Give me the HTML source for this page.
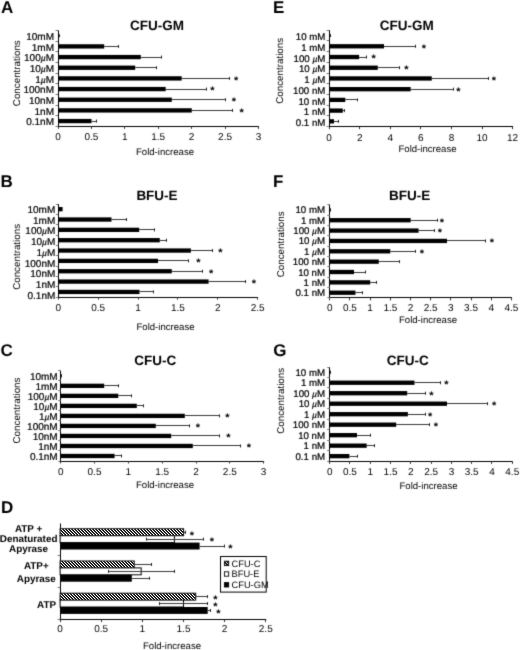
<!DOCTYPE html>
<html><head><meta charset="utf-8"><title>Figure</title>
<style>
html,body{margin:0;padding:0;background:#fff;}
body{width:520px;height:650px;overflow:hidden;}
svg{display:block;font-family:"Liberation Sans", sans-serif;text-rendering:geometricPrecision;filter:grayscale(1);}
.ax{stroke:#000;stroke-width:1;}
.tk{stroke:#777;stroke-width:1;}
.tx{stroke:#333;stroke-width:1;}
.eb{stroke:#3a3a3a;stroke-width:1;}
.ec{stroke:#222;stroke-width:1;}
text{fill:#000;}
.hv{stroke:#000;stroke-width:0.22px;}
</style></head>
<body>
<svg width="520" height="650" viewBox="0 0 520 650">
<defs>
<pattern id="hatch" patternUnits="userSpaceOnUse" x="0" y="0" width="3" height="3">
<rect width="3" height="3" fill="#000"/><path d="M0 0h1v1H0zM1 1h1v1H1zM2 2h1v1H2z" fill="#fff"/><path d="M1 0h1v1H1zM2 1h1v1H2zM0 2h1v1H0z" fill="#444"/>
</pattern>
<pattern id="hatch2" patternUnits="userSpaceOnUse" x="0" y="0" width="3" height="3">
<rect width="3" height="3" fill="#000"/><path d="M0 0h1v1H0zM1 1h1v1H1zM2 2h1v1H2z" fill="#fff"/>
</pattern>
<filter id="soft" x="0" y="0" width="520" height="650" filterUnits="userSpaceOnUse" color-interpolation-filters="sRGB"><feConvolveMatrix order="3" kernelMatrix="1 6 1 6 36 6 1 6 1" divisor="64" edgeMode="duplicate" preserveAlpha="true"/></filter>
</defs>
<g filter="url(#soft)">
<rect width="520" height="650" fill="#fff"/>
<line x1="58.50" y1="30.40" x2="58.50" y2="127.90" class="ax"/>
<line x1="57.50" y1="126.50" x2="258.96" y2="126.50" class="ax"/>
<line x1="55.50" y1="30.50" x2="58.00" y2="30.50" class="tk"/>
<line x1="55.50" y1="41.50" x2="58.00" y2="41.50" class="tk"/>
<line x1="55.50" y1="51.50" x2="58.00" y2="51.50" class="tk"/>
<line x1="55.50" y1="62.50" x2="58.00" y2="62.50" class="tk"/>
<line x1="55.50" y1="73.50" x2="58.00" y2="73.50" class="tk"/>
<line x1="55.50" y1="83.50" x2="58.00" y2="83.50" class="tk"/>
<line x1="55.50" y1="94.50" x2="58.00" y2="94.50" class="tk"/>
<line x1="55.50" y1="105.50" x2="58.00" y2="105.50" class="tk"/>
<line x1="55.50" y1="115.50" x2="58.00" y2="115.50" class="tk"/>
<line x1="55.50" y1="126.50" x2="58.00" y2="126.50" class="tk"/>
<line x1="58.50" y1="126.40" x2="58.50" y2="128.90" class="tx"/>
<text x="58.00" y="140.30" font-size="10" text-anchor="middle">0</text>
<line x1="91.50" y1="126.40" x2="91.50" y2="128.90" class="tx"/>
<text x="91.41" y="140.30" font-size="10" text-anchor="middle">0.5</text>
<line x1="124.50" y1="126.40" x2="124.50" y2="128.90" class="tx"/>
<text x="124.82" y="140.30" font-size="10" text-anchor="middle">1</text>
<line x1="158.50" y1="126.40" x2="158.50" y2="128.90" class="tx"/>
<text x="158.23" y="140.30" font-size="10" text-anchor="middle">1.5</text>
<line x1="191.50" y1="126.40" x2="191.50" y2="128.90" class="tx"/>
<text x="191.64" y="140.30" font-size="10" text-anchor="middle">2</text>
<line x1="225.50" y1="126.40" x2="225.50" y2="128.90" class="tx"/>
<text x="225.05" y="140.30" font-size="10" text-anchor="middle">2.5</text>
<line x1="258.50" y1="126.40" x2="258.50" y2="128.90" class="tx"/>
<text x="258.46" y="140.30" font-size="10" text-anchor="middle">3</text>
<text x="54.00" y="40.13" font-size="10" text-anchor="end" class="hv">10mM</text>
<rect x="58" y="33.58" width="0.80" height="4.3" fill="#000"/>
<line x1="58.80" y1="35.50" x2="59.20" y2="35.50" class="eb"/>
<line x1="59.50" y1="34.23" x2="59.50" y2="37.23" class="ec"/>
<text x="54.00" y="50.80" font-size="10" text-anchor="end" class="hv">1mM</text>
<rect x="58" y="44.25" width="46.20" height="4.3" fill="#000"/>
<line x1="104.20" y1="46.50" x2="118.30" y2="46.50" class="eb"/>
<line x1="118.50" y1="44.90" x2="118.50" y2="47.90" class="ec"/>
<text x="54.00" y="61.47" font-size="10" text-anchor="end" class="hv">100<tspan font-style="italic" font-size="8.5">µ</tspan>M</text>
<rect x="58" y="54.92" width="82.80" height="4.3" fill="#000"/>
<line x1="140.80" y1="57.50" x2="161.40" y2="57.50" class="eb"/>
<line x1="161.50" y1="55.57" x2="161.50" y2="58.57" class="ec"/>
<text x="54.00" y="72.13" font-size="10" text-anchor="end" class="hv">10<tspan font-style="italic" font-size="8.5">µ</tspan>M</text>
<rect x="58" y="65.58" width="77.20" height="4.3" fill="#000"/>
<line x1="135.20" y1="67.50" x2="156.50" y2="67.50" class="eb"/>
<line x1="156.50" y1="66.23" x2="156.50" y2="69.23" class="ec"/>
<text x="54.00" y="82.80" font-size="10" text-anchor="end" class="hv">1<tspan font-style="italic" font-size="8.5">µ</tspan>M</text>
<rect x="58" y="76.25" width="123.70" height="4.3" fill="#000"/>
<line x1="181.70" y1="78.50" x2="229.40" y2="78.50" class="eb"/>
<line x1="229.50" y1="76.90" x2="229.50" y2="79.90" class="ec"/>
<text x="236.20" y="83.80" font-size="11" text-anchor="middle" font-weight="bold">*</text>
<text x="54.00" y="93.47" font-size="10" text-anchor="end" class="hv">100nM</text>
<rect x="58" y="86.92" width="107.70" height="4.3" fill="#000"/>
<line x1="165.70" y1="89.50" x2="206.00" y2="89.50" class="eb"/>
<line x1="206.50" y1="87.57" x2="206.50" y2="90.57" class="ec"/>
<text x="212.50" y="94.47" font-size="11" text-anchor="middle" font-weight="bold">*</text>
<text x="54.00" y="104.13" font-size="10" text-anchor="end" class="hv">10nM</text>
<rect x="58" y="97.58" width="113.80" height="4.3" fill="#000"/>
<line x1="171.80" y1="99.50" x2="225.40" y2="99.50" class="eb"/>
<line x1="225.50" y1="98.23" x2="225.50" y2="101.23" class="ec"/>
<text x="234.00" y="105.13" font-size="11" text-anchor="middle" font-weight="bold">*</text>
<text x="54.00" y="114.80" font-size="10" text-anchor="end" class="hv">1nM</text>
<rect x="58" y="108.25" width="133.80" height="4.3" fill="#000"/>
<line x1="191.80" y1="110.50" x2="232.20" y2="110.50" class="eb"/>
<line x1="232.50" y1="108.90" x2="232.50" y2="111.90" class="ec"/>
<text x="241.70" y="115.80" font-size="11" text-anchor="middle" font-weight="bold">*</text>
<text x="54.00" y="125.47" font-size="10" text-anchor="end" class="hv">0.1nM</text>
<rect x="58" y="118.92" width="33.50" height="4.3" fill="#000"/>
<line x1="91.50" y1="121.50" x2="96.50" y2="121.50" class="eb"/>
<line x1="96.50" y1="119.57" x2="96.50" y2="122.57" class="ec"/>
<text x="157.00" y="30.27" font-size="13.5" text-anchor="middle" font-weight="bold">CFU-GM</text>
<text x="165.00" y="154.96" font-size="9.6" text-anchor="middle">Fold-increase</text>
<text x="0" y="0" font-size="9.8" text-anchor="middle" transform="translate(19.53,73.20) rotate(-90)">Concentrations</text>
<text x="1.00" y="13.37" font-size="17" text-anchor="start" font-weight="bold">A</text>
<line x1="58.50" y1="204.00" x2="58.50" y2="298.60" class="ax"/>
<line x1="57.80" y1="297.50" x2="258.10" y2="297.50" class="ax"/>
<line x1="55.80" y1="204.50" x2="58.30" y2="204.50" class="tk"/>
<line x1="55.80" y1="214.50" x2="58.30" y2="214.50" class="tk"/>
<line x1="55.80" y1="224.50" x2="58.30" y2="224.50" class="tk"/>
<line x1="55.80" y1="235.50" x2="58.30" y2="235.50" class="tk"/>
<line x1="55.80" y1="245.50" x2="58.30" y2="245.50" class="tk"/>
<line x1="55.80" y1="255.50" x2="58.30" y2="255.50" class="tk"/>
<line x1="55.80" y1="266.50" x2="58.30" y2="266.50" class="tk"/>
<line x1="55.80" y1="276.50" x2="58.30" y2="276.50" class="tk"/>
<line x1="55.80" y1="286.50" x2="58.30" y2="286.50" class="tk"/>
<line x1="55.80" y1="297.50" x2="58.30" y2="297.50" class="tk"/>
<line x1="58.50" y1="297.10" x2="58.50" y2="299.60" class="tx"/>
<text x="58.30" y="310.60" font-size="10" text-anchor="middle">0</text>
<line x1="98.50" y1="297.10" x2="98.50" y2="299.60" class="tx"/>
<text x="98.16" y="310.60" font-size="10" text-anchor="middle">0.5</text>
<line x1="138.50" y1="297.10" x2="138.50" y2="299.60" class="tx"/>
<text x="138.02" y="310.60" font-size="10" text-anchor="middle">1</text>
<line x1="177.50" y1="297.10" x2="177.50" y2="299.60" class="tx"/>
<text x="177.88" y="310.60" font-size="10" text-anchor="middle">1.5</text>
<line x1="217.50" y1="297.10" x2="217.50" y2="299.60" class="tx"/>
<text x="217.74" y="310.60" font-size="10" text-anchor="middle">2</text>
<line x1="257.50" y1="297.10" x2="257.50" y2="299.60" class="tx"/>
<text x="257.60" y="310.60" font-size="10" text-anchor="middle">2.5</text>
<text x="55.30" y="213.10" font-size="10" text-anchor="end" class="hv">10mM</text>
<rect x="58.3" y="207.02" width="4.30" height="4.3" fill="#000"/>
<text x="55.30" y="223.79" font-size="10" text-anchor="end" class="hv">1mM</text>
<rect x="58.3" y="217.37" width="53.20" height="4.3" fill="#000"/>
<line x1="111.50" y1="219.50" x2="126.90" y2="219.50" class="eb"/>
<line x1="126.50" y1="218.02" x2="126.50" y2="221.02" class="ec"/>
<text x="55.30" y="234.48" font-size="10" text-anchor="end" class="hv">100<tspan font-style="italic" font-size="8.5">µ</tspan>M</text>
<rect x="58.3" y="227.71" width="80.90" height="4.3" fill="#000"/>
<line x1="139.20" y1="229.50" x2="154.00" y2="229.50" class="eb"/>
<line x1="154.50" y1="228.36" x2="154.50" y2="231.36" class="ec"/>
<text x="55.30" y="245.17" font-size="10" text-anchor="end" class="hv">10<tspan font-style="italic" font-size="8.5">µ</tspan>M</text>
<rect x="58.3" y="238.06" width="101.50" height="4.3" fill="#000"/>
<line x1="159.80" y1="240.50" x2="166.00" y2="240.50" class="eb"/>
<line x1="166.50" y1="238.71" x2="166.50" y2="241.71" class="ec"/>
<text x="55.30" y="255.86" font-size="10" text-anchor="end" class="hv">1<tspan font-style="italic" font-size="8.5">µ</tspan>M</text>
<rect x="58.3" y="248.40" width="132.60" height="4.3" fill="#000"/>
<line x1="190.90" y1="250.50" x2="212.00" y2="250.50" class="eb"/>
<line x1="212.50" y1="249.05" x2="212.50" y2="252.05" class="ec"/>
<text x="220.50" y="255.95" font-size="11" text-anchor="middle" font-weight="bold">*</text>
<text x="55.30" y="266.55" font-size="10" text-anchor="end" class="hv">100nM</text>
<rect x="58.3" y="258.74" width="99.70" height="4.3" fill="#000"/>
<line x1="158.00" y1="260.50" x2="188.00" y2="260.50" class="eb"/>
<line x1="188.50" y1="259.39" x2="188.50" y2="262.39" class="ec"/>
<text x="198.40" y="266.29" font-size="11" text-anchor="middle" font-weight="bold">*</text>
<text x="55.30" y="277.24" font-size="10" text-anchor="end" class="hv">10nM</text>
<rect x="58.3" y="269.09" width="113.50" height="4.3" fill="#000"/>
<line x1="171.80" y1="271.50" x2="202.30" y2="271.50" class="eb"/>
<line x1="202.50" y1="269.74" x2="202.50" y2="272.74" class="ec"/>
<text x="211.20" y="276.64" font-size="11" text-anchor="middle" font-weight="bold">*</text>
<text x="55.30" y="287.93" font-size="10" text-anchor="end" class="hv">1nM</text>
<rect x="58.3" y="279.43" width="150.30" height="4.3" fill="#000"/>
<line x1="208.60" y1="281.50" x2="245.40" y2="281.50" class="eb"/>
<line x1="245.50" y1="280.08" x2="245.50" y2="283.08" class="ec"/>
<text x="253.90" y="286.98" font-size="11" text-anchor="middle" font-weight="bold">*</text>
<text x="55.30" y="298.62" font-size="10" text-anchor="end" class="hv">0.1nM</text>
<rect x="58.3" y="289.78" width="81.20" height="4.3" fill="#000"/>
<line x1="139.50" y1="291.50" x2="153.60" y2="291.50" class="eb"/>
<line x1="153.50" y1="290.43" x2="153.50" y2="293.43" class="ec"/>
<text x="157.00" y="200.17" font-size="13.5" text-anchor="middle" font-weight="bold">BFU-E</text>
<text x="165.50" y="329.76" font-size="9.6" text-anchor="middle">Fold-increase</text>
<text x="0" y="0" font-size="9.8" text-anchor="middle" transform="translate(19.53,256.90) rotate(-90)">Concentrations</text>
<text x="0.60" y="187.37" font-size="17" text-anchor="start" font-weight="bold">B</text>
<line x1="60.50" y1="370.80" x2="60.50" y2="462.50" class="ax"/>
<line x1="60.20" y1="461.50" x2="264.15" y2="461.50" class="ax"/>
<line x1="58.20" y1="370.50" x2="60.70" y2="370.50" class="tk"/>
<line x1="58.20" y1="380.50" x2="60.70" y2="380.50" class="tk"/>
<line x1="58.20" y1="390.50" x2="60.70" y2="390.50" class="tk"/>
<line x1="58.20" y1="400.50" x2="60.70" y2="400.50" class="tk"/>
<line x1="58.20" y1="410.50" x2="60.70" y2="410.50" class="tk"/>
<line x1="58.20" y1="420.50" x2="60.70" y2="420.50" class="tk"/>
<line x1="58.20" y1="430.50" x2="60.70" y2="430.50" class="tk"/>
<line x1="58.20" y1="440.50" x2="60.70" y2="440.50" class="tk"/>
<line x1="58.20" y1="450.50" x2="60.70" y2="450.50" class="tk"/>
<line x1="58.20" y1="461.50" x2="60.70" y2="461.50" class="tk"/>
<line x1="60.50" y1="461.00" x2="60.50" y2="463.50" class="tx"/>
<text x="60.70" y="475.00" font-size="10" text-anchor="middle">0</text>
<line x1="94.50" y1="461.00" x2="94.50" y2="463.50" class="tx"/>
<text x="94.53" y="475.00" font-size="10" text-anchor="middle">0.5</text>
<line x1="128.50" y1="461.00" x2="128.50" y2="463.50" class="tx"/>
<text x="128.35" y="475.00" font-size="10" text-anchor="middle">1</text>
<line x1="162.50" y1="461.00" x2="162.50" y2="463.50" class="tx"/>
<text x="162.18" y="475.00" font-size="10" text-anchor="middle">1.5</text>
<line x1="196.50" y1="461.00" x2="196.50" y2="463.50" class="tx"/>
<text x="196.00" y="475.00" font-size="10" text-anchor="middle">2</text>
<line x1="229.50" y1="461.00" x2="229.50" y2="463.50" class="tx"/>
<text x="229.82" y="475.00" font-size="10" text-anchor="middle">2.5</text>
<line x1="263.50" y1="461.00" x2="263.50" y2="463.50" class="tx"/>
<text x="263.65" y="475.00" font-size="10" text-anchor="middle">3</text>
<text x="57.70" y="379.91" font-size="10" text-anchor="end" class="hv">10mM</text>
<rect x="60.7" y="373.66" width="0.50" height="4.3" fill="#000"/>
<line x1="61.20" y1="375.50" x2="61.60" y2="375.50" class="eb"/>
<line x1="61.50" y1="374.31" x2="61.50" y2="377.31" class="ec"/>
<text x="57.70" y="389.93" font-size="10" text-anchor="end" class="hv">1mM</text>
<rect x="60.7" y="383.68" width="43.50" height="4.3" fill="#000"/>
<line x1="104.20" y1="385.50" x2="118.60" y2="385.50" class="eb"/>
<line x1="118.50" y1="384.33" x2="118.50" y2="387.33" class="ec"/>
<text x="57.70" y="399.96" font-size="10" text-anchor="end" class="hv">100<tspan font-style="italic" font-size="8.5">µ</tspan>M</text>
<rect x="60.7" y="393.71" width="57.60" height="4.3" fill="#000"/>
<line x1="118.30" y1="395.50" x2="131.50" y2="395.50" class="eb"/>
<line x1="131.50" y1="394.36" x2="131.50" y2="397.36" class="ec"/>
<text x="57.70" y="409.98" font-size="10" text-anchor="end" class="hv">10<tspan font-style="italic" font-size="8.5">µ</tspan>M</text>
<rect x="60.7" y="403.73" width="76.10" height="4.3" fill="#000"/>
<line x1="136.80" y1="405.50" x2="143.50" y2="405.50" class="eb"/>
<line x1="143.50" y1="404.38" x2="143.50" y2="407.38" class="ec"/>
<text x="57.70" y="420.00" font-size="10" text-anchor="end" class="hv">1<tspan font-style="italic" font-size="8.5">µ</tspan>M</text>
<rect x="60.7" y="413.75" width="124.10" height="4.3" fill="#000"/>
<line x1="184.80" y1="415.50" x2="219.20" y2="415.50" class="eb"/>
<line x1="219.50" y1="414.40" x2="219.50" y2="417.40" class="ec"/>
<text x="227.50" y="421.30" font-size="11" text-anchor="middle" font-weight="bold">*</text>
<text x="57.70" y="430.02" font-size="10" text-anchor="end" class="hv">100nM</text>
<rect x="60.7" y="423.77" width="95.10" height="4.3" fill="#000"/>
<line x1="155.80" y1="425.50" x2="189.40" y2="425.50" class="eb"/>
<line x1="189.50" y1="424.42" x2="189.50" y2="427.42" class="ec"/>
<text x="198.00" y="431.32" font-size="11" text-anchor="middle" font-weight="bold">*</text>
<text x="57.70" y="440.04" font-size="10" text-anchor="end" class="hv">10nM</text>
<rect x="60.7" y="433.79" width="110.50" height="4.3" fill="#000"/>
<line x1="171.20" y1="435.50" x2="219.20" y2="435.50" class="eb"/>
<line x1="219.50" y1="434.44" x2="219.50" y2="437.44" class="ec"/>
<text x="228.50" y="441.34" font-size="11" text-anchor="middle" font-weight="bold">*</text>
<text x="57.70" y="450.07" font-size="10" text-anchor="end" class="hv">1nM</text>
<rect x="60.7" y="443.82" width="132.10" height="4.3" fill="#000"/>
<line x1="192.80" y1="445.50" x2="240.80" y2="445.50" class="eb"/>
<line x1="240.50" y1="444.47" x2="240.50" y2="447.47" class="ec"/>
<text x="249.00" y="451.37" font-size="11" text-anchor="middle" font-weight="bold">*</text>
<text x="57.70" y="460.09" font-size="10" text-anchor="end" class="hv">0.1nM</text>
<rect x="60.7" y="453.84" width="53.90" height="4.3" fill="#000"/>
<line x1="114.60" y1="455.50" x2="121.70" y2="455.50" class="eb"/>
<line x1="121.50" y1="454.49" x2="121.50" y2="457.49" class="ec"/>
<text x="155.20" y="365.17" font-size="13.5" text-anchor="middle" font-weight="bold">CFU-C</text>
<text x="165.00" y="488.26" font-size="9.6" text-anchor="middle">Fold-increase</text>
<text x="0" y="0" font-size="9.8" text-anchor="middle" transform="translate(19.53,410.50) rotate(-90)">Concentrations</text>
<text x="0.60" y="355.97" font-size="17" text-anchor="start" font-weight="bold">C</text>
<line x1="329.50" y1="30.20" x2="329.50" y2="128.20" class="ax"/>
<line x1="328.60" y1="126.50" x2="513.08" y2="126.50" class="ax"/>
<line x1="326.60" y1="30.50" x2="329.10" y2="30.50" class="tk"/>
<line x1="326.60" y1="40.50" x2="329.10" y2="40.50" class="tk"/>
<line x1="326.60" y1="51.50" x2="329.10" y2="51.50" class="tk"/>
<line x1="326.60" y1="62.50" x2="329.10" y2="62.50" class="tk"/>
<line x1="326.60" y1="73.50" x2="329.10" y2="73.50" class="tk"/>
<line x1="326.60" y1="83.50" x2="329.10" y2="83.50" class="tk"/>
<line x1="326.60" y1="94.50" x2="329.10" y2="94.50" class="tk"/>
<line x1="326.60" y1="105.50" x2="329.10" y2="105.50" class="tk"/>
<line x1="326.60" y1="115.50" x2="329.10" y2="115.50" class="tk"/>
<line x1="326.60" y1="126.50" x2="329.10" y2="126.50" class="tk"/>
<line x1="329.50" y1="126.70" x2="329.50" y2="129.20" class="tx"/>
<text x="329.10" y="140.55" font-size="10" text-anchor="middle">0</text>
<line x1="359.50" y1="126.70" x2="359.50" y2="129.20" class="tx"/>
<text x="359.68" y="140.55" font-size="10" text-anchor="middle">2</text>
<line x1="390.50" y1="126.70" x2="390.50" y2="129.20" class="tx"/>
<text x="390.26" y="140.55" font-size="10" text-anchor="middle">4</text>
<line x1="420.50" y1="126.70" x2="420.50" y2="129.20" class="tx"/>
<text x="420.84" y="140.55" font-size="10" text-anchor="middle">6</text>
<line x1="451.50" y1="126.70" x2="451.50" y2="129.20" class="tx"/>
<text x="451.42" y="140.55" font-size="10" text-anchor="middle">8</text>
<line x1="482.50" y1="126.70" x2="482.50" y2="129.20" class="tx"/>
<text x="482.00" y="140.55" font-size="10" text-anchor="middle">10</text>
<line x1="512.50" y1="126.70" x2="512.50" y2="129.20" class="tx"/>
<text x="512.58" y="140.55" font-size="10" text-anchor="middle">12</text>
<text x="325.40" y="40.25" font-size="9.7" text-anchor="end" class="hv">10 mM</text>
<rect x="329.1" y="33.41" width="0.50" height="4.3" fill="#000"/>
<line x1="329.60" y1="35.50" x2="330.00" y2="35.50" class="eb"/>
<line x1="330.50" y1="34.06" x2="330.50" y2="37.06" class="ec"/>
<text x="325.40" y="50.98" font-size="9.7" text-anchor="end" class="hv">1 mM</text>
<rect x="329.1" y="44.13" width="54.90" height="4.3" fill="#000"/>
<line x1="384.00" y1="46.50" x2="415.20" y2="46.50" class="eb"/>
<line x1="415.50" y1="44.78" x2="415.50" y2="47.78" class="ec"/>
<text x="423.80" y="51.68" font-size="11" text-anchor="middle" font-weight="bold">*</text>
<text x="325.40" y="61.70" font-size="9.7" text-anchor="end" class="hv">100 <tspan font-style="italic" font-size="8.5">µ</tspan>M</text>
<rect x="329.1" y="54.86" width="30.00" height="4.3" fill="#000"/>
<line x1="359.10" y1="57.50" x2="366.00" y2="57.50" class="eb"/>
<line x1="366.50" y1="55.51" x2="366.50" y2="58.51" class="ec"/>
<text x="373.70" y="62.41" font-size="11" text-anchor="middle" font-weight="bold">*</text>
<text x="325.40" y="72.42" font-size="9.7" text-anchor="end" class="hv">10 <tspan font-style="italic" font-size="8.5">µ</tspan>M</text>
<rect x="329.1" y="65.58" width="48.70" height="4.3" fill="#000"/>
<line x1="377.80" y1="67.50" x2="399.60" y2="67.50" class="eb"/>
<line x1="399.50" y1="66.23" x2="399.50" y2="69.23" class="ec"/>
<text x="406.50" y="73.13" font-size="11" text-anchor="middle" font-weight="bold">*</text>
<text x="325.40" y="83.14" font-size="9.7" text-anchor="end" class="hv">1 <tspan font-style="italic" font-size="8.5">µ</tspan>M</text>
<rect x="329.1" y="76.30" width="102.70" height="4.3" fill="#000"/>
<line x1="431.80" y1="78.50" x2="488.60" y2="78.50" class="eb"/>
<line x1="488.50" y1="76.95" x2="488.50" y2="79.95" class="ec"/>
<text x="493.80" y="83.85" font-size="11" text-anchor="middle" font-weight="bold">*</text>
<text x="325.40" y="93.86" font-size="9.7" text-anchor="end" class="hv">100 nM</text>
<rect x="329.1" y="87.02" width="81.60" height="4.3" fill="#000"/>
<line x1="410.70" y1="89.50" x2="453.30" y2="89.50" class="eb"/>
<line x1="453.50" y1="87.67" x2="453.50" y2="90.67" class="ec"/>
<text x="458.50" y="94.57" font-size="11" text-anchor="middle" font-weight="bold">*</text>
<text x="325.40" y="104.59" font-size="9.7" text-anchor="end" class="hv">10 nM</text>
<rect x="329.1" y="97.74" width="16.20" height="4.3" fill="#000"/>
<line x1="345.30" y1="99.50" x2="357.00" y2="99.50" class="eb"/>
<line x1="357.50" y1="98.39" x2="357.50" y2="101.39" class="ec"/>
<text x="325.40" y="115.31" font-size="9.7" text-anchor="end" class="hv">1 nM</text>
<rect x="329.1" y="108.47" width="13.70" height="4.3" fill="#000"/>
<line x1="342.80" y1="110.50" x2="344.20" y2="110.50" class="eb"/>
<line x1="344.50" y1="109.12" x2="344.50" y2="112.12" class="ec"/>
<text x="325.40" y="126.03" font-size="9.7" text-anchor="end" class="hv">0.1 nM</text>
<rect x="329.1" y="119.19" width="4.90" height="4.3" fill="#000"/>
<line x1="334.00" y1="121.50" x2="338.50" y2="121.50" class="eb"/>
<line x1="338.50" y1="119.84" x2="338.50" y2="122.84" class="ec"/>
<text x="406.80" y="30.07" font-size="13.5" text-anchor="middle" font-weight="bold">CFU-GM</text>
<text x="427.50" y="151.96" font-size="9.6" text-anchor="middle">Fold-increase</text>
<text x="0" y="0" font-size="9.8" text-anchor="middle" transform="translate(282.53,70.80) rotate(-90)">Concentrations</text>
<text x="273.00" y="13.37" font-size="17" text-anchor="start" font-weight="bold">E</text>
<line x1="329.50" y1="204.70" x2="329.50" y2="299.40" class="ax"/>
<line x1="329.30" y1="297.50" x2="511.88" y2="297.50" class="ax"/>
<line x1="327.30" y1="204.50" x2="329.80" y2="204.50" class="tk"/>
<line x1="327.30" y1="215.50" x2="329.80" y2="215.50" class="tk"/>
<line x1="327.30" y1="225.50" x2="329.80" y2="225.50" class="tk"/>
<line x1="327.30" y1="235.50" x2="329.80" y2="235.50" class="tk"/>
<line x1="327.30" y1="246.50" x2="329.80" y2="246.50" class="tk"/>
<line x1="327.30" y1="256.50" x2="329.80" y2="256.50" class="tk"/>
<line x1="327.30" y1="266.50" x2="329.80" y2="266.50" class="tk"/>
<line x1="327.30" y1="277.50" x2="329.80" y2="277.50" class="tk"/>
<line x1="327.30" y1="287.50" x2="329.80" y2="287.50" class="tk"/>
<line x1="327.30" y1="297.50" x2="329.80" y2="297.50" class="tk"/>
<line x1="329.50" y1="297.90" x2="329.50" y2="300.40" class="tx"/>
<text x="329.80" y="310.90" font-size="10" text-anchor="middle">0</text>
<line x1="349.50" y1="297.90" x2="349.50" y2="300.40" class="tx"/>
<text x="349.98" y="310.90" font-size="10" text-anchor="middle">0.5</text>
<line x1="370.50" y1="297.90" x2="370.50" y2="300.40" class="tx"/>
<text x="370.15" y="310.90" font-size="10" text-anchor="middle">1</text>
<line x1="390.50" y1="297.90" x2="390.50" y2="300.40" class="tx"/>
<text x="390.33" y="310.90" font-size="10" text-anchor="middle">1.5</text>
<line x1="410.50" y1="297.90" x2="410.50" y2="300.40" class="tx"/>
<text x="410.50" y="310.90" font-size="10" text-anchor="middle">2</text>
<line x1="430.50" y1="297.90" x2="430.50" y2="300.40" class="tx"/>
<text x="430.68" y="310.90" font-size="10" text-anchor="middle">2.5</text>
<line x1="450.50" y1="297.90" x2="450.50" y2="300.40" class="tx"/>
<text x="450.85" y="310.90" font-size="10" text-anchor="middle">3</text>
<line x1="471.50" y1="297.90" x2="471.50" y2="300.40" class="tx"/>
<text x="471.02" y="310.90" font-size="10" text-anchor="middle">3.5</text>
<line x1="491.50" y1="297.90" x2="491.50" y2="300.40" class="tx"/>
<text x="491.20" y="310.90" font-size="10" text-anchor="middle">4</text>
<line x1="511.50" y1="297.90" x2="511.50" y2="300.40" class="tx"/>
<text x="511.38" y="310.90" font-size="10" text-anchor="middle">4.5</text>
<text x="325.10" y="213.37" font-size="9.7" text-anchor="end" class="hv">10 mM</text>
<rect x="329.8" y="207.73" width="0.40" height="4.3" fill="#000"/>
<line x1="330.20" y1="209.50" x2="330.60" y2="209.50" class="eb"/>
<line x1="330.50" y1="208.38" x2="330.50" y2="211.38" class="ec"/>
<text x="325.10" y="223.73" font-size="9.7" text-anchor="end" class="hv">1 mM</text>
<rect x="329.8" y="218.08" width="80.90" height="4.3" fill="#000"/>
<line x1="410.70" y1="220.50" x2="437.00" y2="220.50" class="eb"/>
<line x1="437.50" y1="218.73" x2="437.50" y2="221.73" class="ec"/>
<text x="441.80" y="225.63" font-size="11" text-anchor="middle" font-weight="bold">*</text>
<text x="325.10" y="234.08" font-size="9.7" text-anchor="end" class="hv">100 <tspan font-style="italic" font-size="8.5">µ</tspan>M</text>
<rect x="329.8" y="228.44" width="88.80" height="4.3" fill="#000"/>
<line x1="418.60" y1="230.50" x2="434.90" y2="230.50" class="eb"/>
<line x1="434.50" y1="229.09" x2="434.50" y2="232.09" class="ec"/>
<text x="439.80" y="235.99" font-size="11" text-anchor="middle" font-weight="bold">*</text>
<text x="325.10" y="244.44" font-size="9.7" text-anchor="end" class="hv">10 <tspan font-style="italic" font-size="8.5">µ</tspan>M</text>
<rect x="329.8" y="238.79" width="117.20" height="4.3" fill="#000"/>
<line x1="447.00" y1="240.50" x2="485.50" y2="240.50" class="eb"/>
<line x1="485.50" y1="239.44" x2="485.50" y2="242.44" class="ec"/>
<text x="492.00" y="246.34" font-size="11" text-anchor="middle" font-weight="bold">*</text>
<text x="325.10" y="254.79" font-size="9.7" text-anchor="end" class="hv">1 <tspan font-style="italic" font-size="8.5">µ</tspan>M</text>
<rect x="329.8" y="249.15" width="60.50" height="4.3" fill="#000"/>
<line x1="390.30" y1="251.50" x2="415.90" y2="251.50" class="eb"/>
<line x1="415.50" y1="249.80" x2="415.50" y2="252.80" class="ec"/>
<text x="421.80" y="256.70" font-size="11" text-anchor="middle" font-weight="bold">*</text>
<text x="325.10" y="265.15" font-size="9.7" text-anchor="end" class="hv">100 nM</text>
<rect x="329.8" y="259.51" width="49.00" height="4.3" fill="#000"/>
<line x1="378.80" y1="261.50" x2="399.60" y2="261.50" class="eb"/>
<line x1="399.50" y1="260.16" x2="399.50" y2="263.16" class="ec"/>
<text x="325.10" y="275.50" font-size="9.7" text-anchor="end" class="hv">10 nM</text>
<rect x="329.8" y="269.86" width="24.20" height="4.3" fill="#000"/>
<line x1="354.00" y1="272.50" x2="365.60" y2="272.50" class="eb"/>
<line x1="365.50" y1="270.51" x2="365.50" y2="273.51" class="ec"/>
<text x="325.10" y="285.86" font-size="9.7" text-anchor="end" class="hv">1 nM</text>
<rect x="329.8" y="280.22" width="40.40" height="4.3" fill="#000"/>
<line x1="370.20" y1="282.50" x2="376.60" y2="282.50" class="eb"/>
<line x1="376.50" y1="280.87" x2="376.50" y2="283.87" class="ec"/>
<text x="325.10" y="296.21" font-size="9.7" text-anchor="end" class="hv">0.1 nM</text>
<rect x="329.8" y="290.57" width="25.70" height="4.3" fill="#000"/>
<line x1="355.50" y1="292.50" x2="362.70" y2="292.50" class="eb"/>
<line x1="362.50" y1="291.22" x2="362.50" y2="294.22" class="ec"/>
<text x="409.60" y="200.47" font-size="13.5" text-anchor="middle" font-weight="bold">BFU-E</text>
<text x="428.00" y="323.06" font-size="9.6" text-anchor="middle">Fold-increase</text>
<text x="0" y="0" font-size="9.8" text-anchor="middle" transform="translate(283.73,244.30) rotate(-90)">Concentrations</text>
<text x="273.00" y="187.17" font-size="17" text-anchor="start" font-weight="bold">F</text>
<line x1="329.50" y1="367.00" x2="329.50" y2="462.90" class="ax"/>
<line x1="329.20" y1="461.50" x2="512.76" y2="461.50" class="ax"/>
<line x1="327.20" y1="367.50" x2="329.70" y2="367.50" class="tk"/>
<line x1="327.20" y1="377.50" x2="329.70" y2="377.50" class="tk"/>
<line x1="327.20" y1="387.50" x2="329.70" y2="387.50" class="tk"/>
<line x1="327.20" y1="398.50" x2="329.70" y2="398.50" class="tk"/>
<line x1="327.20" y1="408.50" x2="329.70" y2="408.50" class="tk"/>
<line x1="327.20" y1="419.50" x2="329.70" y2="419.50" class="tk"/>
<line x1="327.20" y1="429.50" x2="329.70" y2="429.50" class="tk"/>
<line x1="327.20" y1="440.50" x2="329.70" y2="440.50" class="tk"/>
<line x1="327.20" y1="450.50" x2="329.70" y2="450.50" class="tk"/>
<line x1="327.20" y1="461.50" x2="329.70" y2="461.50" class="tk"/>
<line x1="329.50" y1="461.40" x2="329.50" y2="463.90" class="tx"/>
<text x="329.70" y="474.60" font-size="10" text-anchor="middle">0</text>
<line x1="349.50" y1="461.40" x2="349.50" y2="463.90" class="tx"/>
<text x="349.99" y="474.60" font-size="10" text-anchor="middle">0.5</text>
<line x1="370.50" y1="461.40" x2="370.50" y2="463.90" class="tx"/>
<text x="370.27" y="474.60" font-size="10" text-anchor="middle">1</text>
<line x1="390.50" y1="461.40" x2="390.50" y2="463.90" class="tx"/>
<text x="390.56" y="474.60" font-size="10" text-anchor="middle">1.5</text>
<line x1="410.50" y1="461.40" x2="410.50" y2="463.90" class="tx"/>
<text x="410.84" y="474.60" font-size="10" text-anchor="middle">2</text>
<line x1="431.50" y1="461.40" x2="431.50" y2="463.90" class="tx"/>
<text x="431.12" y="474.60" font-size="10" text-anchor="middle">2.5</text>
<line x1="451.50" y1="461.40" x2="451.50" y2="463.90" class="tx"/>
<text x="451.41" y="474.60" font-size="10" text-anchor="middle">3</text>
<line x1="471.50" y1="461.40" x2="471.50" y2="463.90" class="tx"/>
<text x="471.69" y="474.60" font-size="10" text-anchor="middle">3.5</text>
<line x1="491.50" y1="461.40" x2="491.50" y2="463.90" class="tx"/>
<text x="491.98" y="474.60" font-size="10" text-anchor="middle">4</text>
<line x1="512.50" y1="461.40" x2="512.50" y2="463.90" class="tx"/>
<text x="512.26" y="474.60" font-size="10" text-anchor="middle">4.5</text>
<text x="325.10" y="375.74" font-size="9.7" text-anchor="end" class="hv">10 mM</text>
<rect x="329.7" y="370.09" width="0.40" height="4.3" fill="#000"/>
<line x1="330.10" y1="372.50" x2="330.50" y2="372.50" class="eb"/>
<line x1="330.50" y1="370.74" x2="330.50" y2="373.74" class="ec"/>
<text x="325.10" y="386.23" font-size="9.7" text-anchor="end" class="hv">1 mM</text>
<rect x="329.7" y="380.58" width="84.80" height="4.3" fill="#000"/>
<line x1="414.50" y1="382.50" x2="440.10" y2="382.50" class="eb"/>
<line x1="440.50" y1="381.23" x2="440.50" y2="384.23" class="ec"/>
<text x="446.30" y="388.13" font-size="11" text-anchor="middle" font-weight="bold">*</text>
<text x="325.10" y="396.71" font-size="9.7" text-anchor="end" class="hv">100 <tspan font-style="italic" font-size="8.5">µ</tspan>M</text>
<rect x="329.7" y="391.07" width="77.50" height="4.3" fill="#000"/>
<line x1="407.20" y1="393.50" x2="425.60" y2="393.50" class="eb"/>
<line x1="425.50" y1="391.72" x2="425.50" y2="394.72" class="ec"/>
<text x="431.50" y="398.62" font-size="11" text-anchor="middle" font-weight="bold">*</text>
<text x="325.10" y="407.20" font-size="9.7" text-anchor="end" class="hv">10 <tspan font-style="italic" font-size="8.5">µ</tspan>M</text>
<rect x="329.7" y="401.56" width="117.30" height="4.3" fill="#000"/>
<line x1="447.00" y1="403.50" x2="487.90" y2="403.50" class="eb"/>
<line x1="487.50" y1="402.21" x2="487.50" y2="405.21" class="ec"/>
<text x="494.10" y="409.11" font-size="11" text-anchor="middle" font-weight="bold">*</text>
<text x="325.10" y="417.69" font-size="9.7" text-anchor="end" class="hv">1 <tspan font-style="italic" font-size="8.5">µ</tspan>M</text>
<rect x="329.7" y="412.05" width="78.20" height="4.3" fill="#000"/>
<line x1="407.90" y1="414.50" x2="425.60" y2="414.50" class="eb"/>
<line x1="425.50" y1="412.70" x2="425.50" y2="415.70" class="ec"/>
<text x="430.10" y="419.60" font-size="11" text-anchor="middle" font-weight="bold">*</text>
<text x="325.10" y="428.18" font-size="9.7" text-anchor="end" class="hv">100 nM</text>
<rect x="329.7" y="422.54" width="66.50" height="4.3" fill="#000"/>
<line x1="396.20" y1="424.50" x2="429.00" y2="424.50" class="eb"/>
<line x1="429.50" y1="423.19" x2="429.50" y2="426.19" class="ec"/>
<text x="436.00" y="430.09" font-size="11" text-anchor="middle" font-weight="bold">*</text>
<text x="325.10" y="438.67" font-size="9.7" text-anchor="end" class="hv">10 nM</text>
<rect x="329.7" y="433.03" width="27.30" height="4.3" fill="#000"/>
<line x1="357.00" y1="435.50" x2="370.20" y2="435.50" class="eb"/>
<line x1="370.50" y1="433.68" x2="370.50" y2="436.68" class="ec"/>
<text x="325.10" y="449.16" font-size="9.7" text-anchor="end" class="hv">1 nM</text>
<rect x="329.7" y="443.52" width="37.00" height="4.3" fill="#000"/>
<line x1="366.70" y1="445.50" x2="374.70" y2="445.50" class="eb"/>
<line x1="374.50" y1="444.17" x2="374.50" y2="447.17" class="ec"/>
<text x="325.10" y="459.65" font-size="9.7" text-anchor="end" class="hv">0.1 nM</text>
<rect x="329.7" y="454.01" width="19.70" height="4.3" fill="#000"/>
<line x1="349.40" y1="456.50" x2="357.40" y2="456.50" class="eb"/>
<line x1="357.50" y1="454.66" x2="357.50" y2="457.66" class="ec"/>
<text x="407.70" y="365.47" font-size="13.5" text-anchor="middle" font-weight="bold">CFU-C</text>
<text x="428.50" y="488.86" font-size="9.6" text-anchor="middle">Fold-increase</text>
<text x="0" y="0" font-size="9.8" text-anchor="middle" transform="translate(284.33,400.80) rotate(-90)">Concentrations</text>
<text x="273.20" y="355.97" font-size="17" text-anchor="start" font-weight="bold">G</text>
<line x1="60.50" y1="523.50" x2="60.50" y2="621.10" class="ax"/>
<line x1="59.60" y1="619.50" x2="266.27" y2="619.50" class="ax"/>
<line x1="57.60" y1="555.50" x2="60.10" y2="555.50" class="tk"/>
<line x1="57.60" y1="587.50" x2="60.10" y2="587.50" class="tk"/>
<line x1="57.60" y1="619.50" x2="60.10" y2="619.50" class="tk"/>
<line x1="60.50" y1="619.60" x2="60.50" y2="622.10" class="tx"/>
<text x="60.10" y="632.40" font-size="10" text-anchor="middle">0</text>
<line x1="101.50" y1="619.60" x2="101.50" y2="622.10" class="tx"/>
<text x="101.23" y="632.40" font-size="10" text-anchor="middle">0.5</text>
<line x1="142.50" y1="619.60" x2="142.50" y2="622.10" class="tx"/>
<text x="142.37" y="632.40" font-size="10" text-anchor="middle">1</text>
<line x1="183.50" y1="619.60" x2="183.50" y2="622.10" class="tx"/>
<text x="183.50" y="632.40" font-size="10" text-anchor="middle">1.5</text>
<line x1="224.50" y1="619.60" x2="224.50" y2="622.10" class="tx"/>
<text x="224.64" y="632.40" font-size="10" text-anchor="middle">2</text>
<line x1="265.50" y1="619.60" x2="265.50" y2="622.10" class="tx"/>
<text x="265.77" y="632.40" font-size="10" text-anchor="middle">2.5</text>
<text x="172.00" y="648.96" font-size="9.6" text-anchor="middle">Fold-increase</text>
<rect x="60.1" y="528.80" width="123.50" height="6.9" fill="url(#hatch)" stroke="#000" stroke-width="1"/>
<line x1="183.60" y1="532.50" x2="185.50" y2="532.50" class="eb"/>
<line x1="185.50" y1="530.75" x2="185.50" y2="533.75" class="ec"/>
<text x="192.00" y="538.65" font-size="11" text-anchor="middle" font-weight="bold">*</text>
<rect x="60.1" y="535.70" width="114.30" height="6.9" fill="#fff" stroke="#000" stroke-width="1"/>
<line x1="146.20" y1="539.50" x2="203.70" y2="539.50" class="eb"/>
<line x1="203.50" y1="537.65" x2="203.50" y2="540.65" class="ec"/>
<line x1="146.50" y1="537.65" x2="146.50" y2="540.65" class="ec"/>
<text x="212.00" y="545.25" font-size="11" text-anchor="middle" font-weight="bold">*</text>
<rect x="60.1" y="542.60" width="139.50" height="6.9" fill="#000"/>
<line x1="199.60" y1="546.50" x2="224.00" y2="546.50" class="eb"/>
<line x1="224.50" y1="544.55" x2="224.50" y2="547.55" class="ec"/>
<text x="230.50" y="552.45" font-size="11" text-anchor="middle" font-weight="bold">*</text>
<rect x="60.1" y="561.00" width="74.10" height="6.9" fill="url(#hatch)" stroke="#000" stroke-width="1"/>
<line x1="134.20" y1="564.50" x2="151.00" y2="564.50" class="eb"/>
<line x1="151.50" y1="562.95" x2="151.50" y2="565.95" class="ec"/>
<rect x="60.1" y="567.90" width="81.10" height="6.9" fill="#fff" stroke="#000" stroke-width="1"/>
<line x1="108.60" y1="571.50" x2="174.60" y2="571.50" class="eb"/>
<line x1="174.50" y1="569.85" x2="174.50" y2="572.85" class="ec"/>
<line x1="108.50" y1="569.85" x2="108.50" y2="572.85" class="ec"/>
<rect x="60.1" y="574.80" width="71.70" height="6.9" fill="#000"/>
<line x1="131.80" y1="578.50" x2="149.40" y2="578.50" class="eb"/>
<line x1="149.50" y1="576.75" x2="149.50" y2="579.75" class="ec"/>
<rect x="60.1" y="593.20" width="135.60" height="6.9" fill="url(#hatch)" stroke="#000" stroke-width="1"/>
<line x1="195.70" y1="596.50" x2="207.70" y2="596.50" class="eb"/>
<line x1="207.50" y1="595.15" x2="207.50" y2="598.15" class="ec"/>
<text x="215.40" y="603.05" font-size="11" text-anchor="middle" font-weight="bold">*</text>
<rect x="60.1" y="600.10" width="123.40" height="6.9" fill="#fff" stroke="#000" stroke-width="1"/>
<line x1="159.20" y1="603.50" x2="207.70" y2="603.50" class="eb"/>
<line x1="207.50" y1="602.05" x2="207.50" y2="605.05" class="ec"/>
<line x1="159.50" y1="602.05" x2="159.50" y2="605.05" class="ec"/>
<text x="215.40" y="609.65" font-size="11" text-anchor="middle" font-weight="bold">*</text>
<rect x="60.1" y="607.00" width="147.60" height="6.9" fill="#000"/>
<line x1="207.70" y1="610.50" x2="210.50" y2="610.50" class="eb"/>
<line x1="210.50" y1="608.95" x2="210.50" y2="611.95" class="ec"/>
<text x="218.50" y="616.85" font-size="11" text-anchor="middle" font-weight="bold">*</text>
<text x="28.60" y="531.66" font-size="9.9" text-anchor="middle" font-weight="bold">ATP +</text>
<text x="28.60" y="541.96" font-size="9.9" text-anchor="middle" font-weight="bold">Denaturated</text>
<text x="28.60" y="552.26" font-size="9.9" text-anchor="middle" font-weight="bold">Apyrase</text>
<text x="36.30" y="569.46" font-size="9.9" text-anchor="middle" font-weight="bold">ATP+</text>
<text x="36.30" y="581.86" font-size="9.9" text-anchor="middle" font-weight="bold">Apyrase</text>
<text x="46.50" y="608.46" font-size="9.9" text-anchor="middle" font-weight="bold">ATP</text>
<rect x="220.5" y="556.5" width="45.7" height="35.6" fill="#fff" stroke="#000" stroke-width="1"/>
<rect x="224.4" y="561.20" width="4.3" height="4.4" fill="url(#hatch2)" stroke="#000" stroke-width="0.9"/>
<text x="231.50" y="566.75" font-size="9.3" text-anchor="start">CFU-C</text>
<rect x="224.4" y="571.80" width="4.3" height="4.4" fill="#fff" stroke="#000" stroke-width="0.9"/>
<text x="231.50" y="577.35" font-size="9.3" text-anchor="start">BFU-E</text>
<rect x="224.4" y="582.60" width="4.3" height="4.4" fill="#000" stroke="#000" stroke-width="0.9"/>
<text x="231.50" y="588.15" font-size="9.3" text-anchor="start">CFU-GM</text>
<text x="1.00" y="513.07" font-size="17" text-anchor="start" font-weight="bold">D</text>
</g>
<rect x="60.70" y="529.40" width="122.30" height="5.70" fill="url(#hatch)"/>
<rect x="60.70" y="561.60" width="72.90" height="5.70" fill="url(#hatch)"/>
<rect x="60.70" y="593.80" width="134.40" height="5.70" fill="url(#hatch)"/>
</svg>
</body></html>
